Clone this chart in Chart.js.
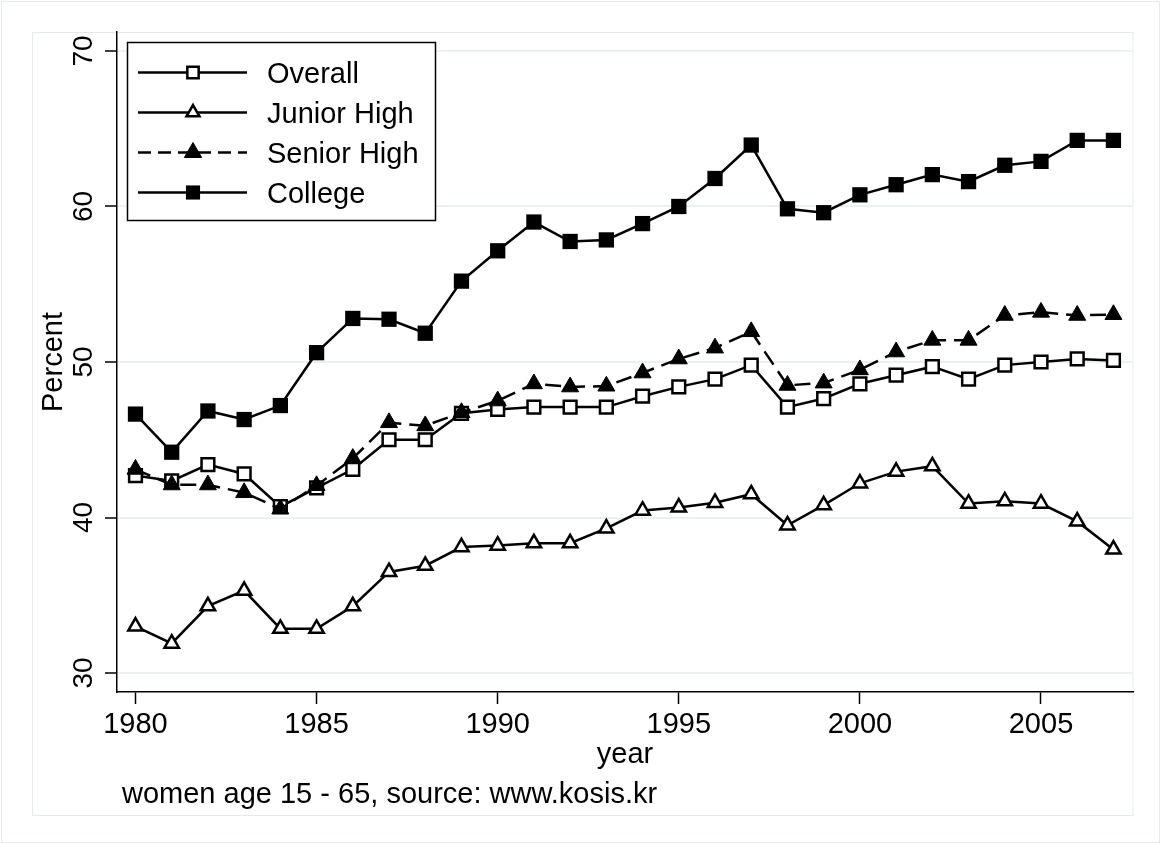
<!DOCTYPE html>
<html>
<head>
<meta charset="utf-8">
<script src="https://cdn.jsdelivr.net/npm/chart.js@4.4.1/dist/chart.umd.min.js"></script>
<style>
  html, body { margin: 0; padding: 0; background: #ffffff; }
  #wrap { width: 1161px; height: 844px; }
</style>
</head>
<body>
<div id="wrap"><canvas id="c" width="1161" height="844"></canvas></div>
<script>
const years = [1980,1981,1982,1983,1984,1985,1986,1987,1988,1989,1990,1991,1992,1993,1994,1995,1996,1997,1998,1999,2000,2001,2002,2003,2004,2005,2006,2007];
const overall = [42.7,42.35,43.4,42.8,40.7,41.9,43.1,45.0,45.0,46.7,46.95,47.1,47.1,47.1,47.8,48.4,48.9,49.8,47.1,47.65,48.6,49.15,49.7,48.9,49.8,50.0,50.2,50.1];
const juniorHigh = [33.0,31.9,34.3,35.3,32.85,32.85,34.3,36.5,36.9,38.1,38.2,38.35,38.35,39.3,40.45,40.65,40.95,41.5,39.5,40.8,42.2,42.95,43.3,40.9,41.05,40.9,39.75,37.95];
const seniorHigh = [43.1,42.1,42.1,41.6,40.55,42.05,43.8,46.1,45.9,46.75,47.5,48.6,48.4,48.45,49.3,50.2,50.9,51.95,48.5,48.65,49.5,50.65,51.4,51.4,53.0,53.2,53.0,53.05];
const college = [46.65,44.2,46.85,46.3,47.2,50.6,52.8,52.75,51.85,55.2,57.15,59.0,57.75,57.85,58.9,60.0,61.8,63.95,59.85,59.6,60.75,61.4,62.05,61.6,62.65,62.9,64.25,64.25];
const seriesNames = ['Overall','Junior High','Senior High','College'];
const xTicks = [1980,1985,1990,1995,2000,2005];
const yTicks = [30,40,50,60,70];
const xTitle = 'year';
const yTitle = 'Percent';
const note = 'women age 15 - 65, source: www.kosis.kr';

const FONT = '"Liberation Sans", Arial, Helvetica, sans-serif';
const toXY = arr => years.map((yr, i) => ({x: yr, y: arr[i]}));

const styles = [
  {pointStyle: 'rect', pointRadius: 9, bg: '#ffffff', pbw: 2.5, dash: [], order: 4, lr: 8},
  {pointStyle: 'triangle', pointRadius: 8.3, bg: '#ffffff', pbw: 2.5, dash: [], order: 3, lr: 7.5},
  {pointStyle: 'triangle', pointRadius: 9.8, bg: '#000000', pbw: 1, dash: [16, 8], order: 2, lr: 10},
  {pointStyle: 'rect', pointRadius: 10.8, bg: '#000000', pbw: 0, dash: [], order: 1, lr: 10}
];
const seriesData = [overall, juniorHigh, seniorHigh, college];

const datasets = seriesData.map((arr, i) => ({
  label: seriesNames[i],
  data: toXY(arr),
  borderColor: '#000000',
  borderWidth: 2.5,
  borderDash: styles[i].dash,
  pointStyle: styles[i].pointStyle,
  pointRadius: styles[i].pointRadius,
  pointHoverRadius: styles[i].pointRadius,
  pointBackgroundColor: styles[i].bg,
  pointBorderColor: '#000000',
  pointBorderWidth: styles[i].pbw,
  fill: false,
  tension: 0,
  order: styles[i].order
}));

function marker(ctx, style, x, y, r, bg, bw) {
  ctx.save();
  ctx.fillStyle = bg;
  ctx.strokeStyle = '#000';
  ctx.lineWidth = bw;
  ctx.setLineDash([]);
  ctx.beginPath();
  if (style === 'rect') {
    const s = Math.SQRT1_2 * r;
    ctx.rect(x - s, y - s, 2 * s, 2 * s);
  } else {
    const a = 2 * Math.PI / 3;
    ctx.moveTo(x, y - r);
    ctx.lineTo(x + Math.sin(a) * r, y - Math.cos(a) * r);
    ctx.lineTo(x + Math.sin(2 * a) * r, y - Math.cos(2 * a) * r);
    ctx.closePath();
  }
  ctx.fill();
  if (bw > 0) ctx.stroke();
  ctx.restore();
}

const framePlugin = {
  id: 'frame',
  beforeDraw(chart) {
    const ctx = chart.ctx;
    ctx.save();
    ctx.fillStyle = '#ffffff';
    ctx.fillRect(0, 0, chart.width, chart.height);
    ctx.strokeStyle = '#e4ebed';
    ctx.lineWidth = 1;
    ctx.strokeRect(1.5, 1.5, chart.width - 3, chart.height - 3);
    const ca = chart.chartArea;
    ctx.strokeRect(32.5, ca.top + 0.5, ca.right - 32.5, 815 - ca.top);
    ctx.restore();
  }
};

const textPlugin = {
  id: 'texts',
  afterDraw(chart) {
    const ctx = chart.ctx;
    const ys = chart.scales.y;
    const ca = chart.chartArea;
    ctx.save();
    ctx.fillStyle = '#000';
    ctx.font = '28px ' + FONT;
    ctx.textAlign = 'center';
    ctx.textBaseline = 'alphabetic';
    ys.ticks.forEach(t => {
      const py = ys.getPixelForValue(t.value);
      ctx.save();
      ctx.translate(92, py);
      ctx.rotate(-Math.PI / 2);
      ctx.fillText(String(t.value), 0, 0);
      ctx.restore();
    });
    ctx.font = '29px ' + FONT;
    ctx.save();
    ctx.translate(62, (ca.top + ca.bottom) / 2);
    ctx.rotate(-Math.PI / 2);
    ctx.fillText(yTitle, 0, 0);
    ctx.restore();
    ctx.fillText(xTitle, (ca.left + ca.right) / 2, 763);
    ctx.textAlign = 'left';
    ctx.fillText(note, 122, 803);

    // legend
    const L = 127, T = 42, R = 435, B = 220;
    ctx.fillStyle = '#ffffff';
    ctx.fillRect(L, T, R - L, B - T);
    ctx.strokeStyle = '#000';
    ctx.lineWidth = 1.5;
    ctx.strokeRect(L + 0.5, T + 0.5, R - L, B - T);
    seriesNames.forEach((name, i) => {
      const base = 83 + i * 40;
      const cy = base - 10.5;
      ctx.save();
      ctx.strokeStyle = '#000';
      ctx.lineWidth = 2.5;
      ctx.setLineDash(styles[i].dash.length ? [13, 7] : []);
      ctx.beginPath();
      ctx.moveTo(138, cy);
      ctx.lineTo(247, cy);
      ctx.stroke();
      ctx.restore();
      marker(ctx, styles[i].pointStyle, 193, cy, styles[i].lr, styles[i].bg, styles[i].pbw);
      ctx.fillStyle = '#000';
      ctx.font = '29px ' + FONT;
      ctx.textAlign = 'left';
      ctx.fillText(name, 267, base);
    });
    ctx.restore();
  }
};

new Chart(document.getElementById('c'), {
  type: 'line',
  data: { datasets },
  options: {
    responsive: false,
    devicePixelRatio: 1,
    animation: false,
    layout: { padding: { left: 0, top: 32, right: 28, bottom: 0 } },
    plugins: { legend: { display: false }, tooltip: { enabled: false }, title: { display: false } },
    scales: {
      x: {
        type: 'linear',
        min: 1979.49,
        max: 2007.54,
        afterBuildTicks: s => { s.ticks = xTicks.map(v => ({ value: v })); },
        afterFit: s => { s.height = 152; },
        grid: { drawOnChartArea: false, drawTicks: true, tickLength: 12, tickColor: '#000', tickWidth: 1.5 },
        border: { display: true, color: '#000', width: 1.5 },
        ticks: { color: '#000', font: { family: FONT, size: 29, lineHeight: 1.2 }, padding: 4, maxRotation: 0, minRotation: 0, autoSkip: false, callback: v => String(v) }
      },
      y: {
        type: 'linear',
        min: 28.78,
        max: 71.22,
        afterBuildTicks: s => { s.ticks = yTicks.map(v => ({ value: v })); },
        afterFit: s => { s.width = 117; },
        grid: { color: '#e9f1f2', lineWidth: 2, drawTicks: true, tickLength: 12, tickColor: '#000', tickWidth: 1.5 },
        border: { display: true, color: '#000', width: 1.5 },
        ticks: { display: false }
      }
    }
  },
  plugins: [framePlugin, textPlugin]
});
</script>
</body>
</html>
